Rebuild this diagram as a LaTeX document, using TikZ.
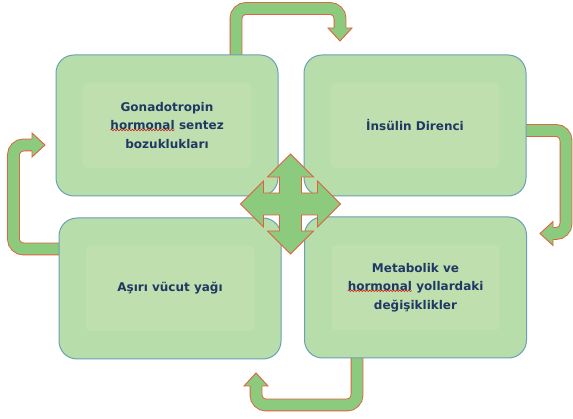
\documentclass[tikz,border=0pt]{standalone}
\usepackage{fontspec}
\setmainfont{DejaVu Sans}
\usepackage{tikz}
\usetikzlibrary{calc,decorations.pathmorphing}
\definecolor{boxGreen}{RGB}{183,222,170}
\definecolor{boxInner}{RGB}{191,223,174}
\definecolor{boxEdge}{RGB}{106,160,178}
\definecolor{txtNavy}{RGB}{31,56,100}
\definecolor{arrowGreen}{RGB}{140,203,125}
\definecolor{arrowRed}{RGB}{224,96,64}
\tikzset{
  stageBox/.style={draw=boxEdge, line width=1pt, fill=boxGreen, rounded corners=18pt,
    minimum width=222pt, minimum height=141pt, align=center, text=txtNavy,
    font=\fontsize{12}{18.5}\selectfont\bfseries,
    path picture={\fill[boxInner, rounded corners=4pt]
      ($(path picture bounding box.south west)+(27pt,28pt)$)
      rectangle ($(path picture bounding box.north east)-(27pt,28pt)$);}},
  bendShaft/.style={draw=arrowRed, line width=0.9pt, double=arrowGreen,
    double distance=11pt, rounded corners=10pt},
  headEdge/.style={draw=arrowRed, line width=0.9pt, line join=miter},
  crossArrow/.style={fill=arrowGreen, draw=arrowRed, line width=0.9pt},
  spellMark/.style={draw=red!85!black, line width=0.5pt, sharp corners,
    decorate, decoration={snake, segment length=3pt, amplitude=0.8pt}}
}
% head of a bent arrow: #1 base centre, #2 direction
\newcommand{\BendHead}[2]{%
  \begin{scope}[shift={#1}, rotate=#2]
    \fill[arrowGreen] (0,-12) -- (13,0) -- (0,12) -- cycle;
    \draw[headEdge] (0,-6) -- (0,-12) -- (13,0) -- (0,12) -- (0,6);
  \end{scope}}
% word with a spell-check wave under it
\newcommand{\SpellWord}[1]{\tikz[baseline=(w.base)]{%
  \node[inner sep=0pt, outer sep=0pt, draw=none, fill=none, minimum size=0pt,
    rounded corners=0pt, path picture={}] (w) {#1};
  \draw[spellMark, yshift=-2.6pt] (w.base west) -- (w.base east);}}

\begin{document}
\begin{tikzpicture}[x=1pt, y=-1pt]
  \useasboundingbox (0,0) rectangle (573,419);
  \fill[white] (0,0) rectangle (573,419);
  % bent arrows round the cycle
  \draw[bendShaft] (236,62) -- (236,8.5) -- (340,8.5) -- (340,28);
  \BendHead{(340,28)}{-90}
  \draw[bendShaft] (520,130.5) -- (566,130.5) -- (566,233.5) -- (553,233.5);
  \BendHead{(553,233.5)}{180}
  \draw[bendShaft] (357,352) -- (357,405) -- (256,405) -- (256,386);
  \BendHead{(256,386)}{90}
  \draw[bendShaft] (65,249) -- (13.5,249) -- (13.5,145) -- (32,145);
  \BendHead{(32,145)}{0}
  % the four stages
  \node[stageBox] (gonad) at (167,125.5) {Gonadotropin\\\SpellWord{hormonal} sentez\\bozuklukları};
  \node[stageBox] (insulin) at (415,125.5) {İnsülin Direnci};
  \node[stageBox] (fat) at (170,288.5) {Aşırı vücut yağı};
  \node[stageBox] (metab) at (415.5,287.5) {Metabolik ve\\\SpellWord{hormonal} yollardaki\\değişiklikler};
  % four-way arrow in the middle
  \begin{scope}[shift={(290.5,204)}]
    \draw[crossArrow] (0,-50) -- (23,-27) -- (11,-27) -- (11,-11) -- (27,-11) -- (27,-23)
      -- (50,0) -- (27,23) -- (27,11) -- (11,11) -- (11,27) -- (23,27)
      -- (0,50) -- (-23,27) -- (-11,27) -- (-11,11) -- (-27,11) -- (-27,23)
      -- (-50,0) -- (-27,-23) -- (-27,-11) -- (-11,-11) -- (-11,-27) -- (-23,-27) -- cycle;
  \end{scope}
\end{tikzpicture}
\end{document}
